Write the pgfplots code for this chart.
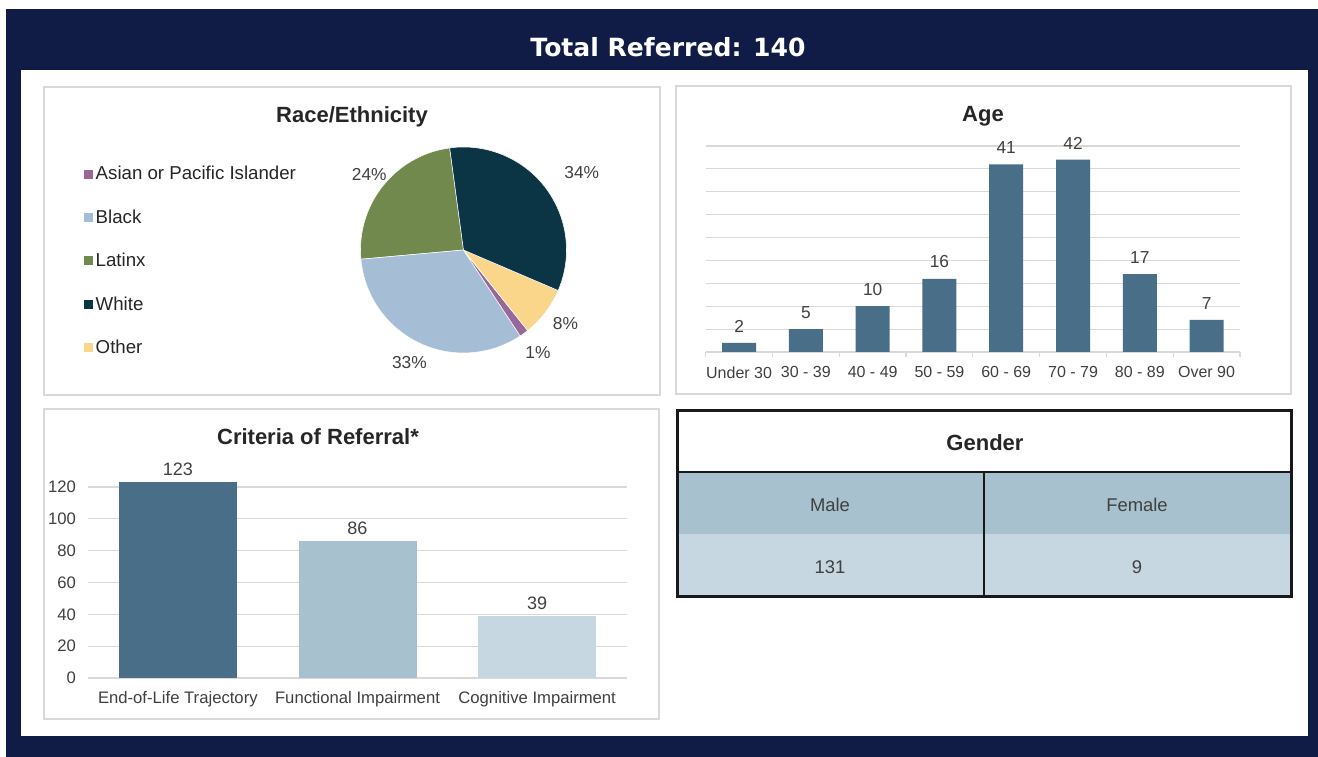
\documentclass[border=0pt]{standalone}
\usepackage{fontspec}
\setmainfont{Liberation Sans}
\newfontfamily\headfont{DejaVu Sans}
\usepackage{pgfplots}
\pgfplotsset{compat=1.18}
\definecolor{navy}{HTML}{101C46}
\definecolor{panelgray}{HTML}{D9D9D9}
\definecolor{gridgray}{HTML}{D9D9D9}
\definecolor{labelgray}{HTML}{404040}
\definecolor{titlegray}{HTML}{262626}
\definecolor{asian}{HTML}{98689B}
\definecolor{blackc}{HTML}{A5BED6}
\definecolor{latinx}{HTML}{71894C}
\definecolor{whitec}{HTML}{0B3544}
\definecolor{other}{HTML}{FAD68B}
\definecolor{barA}{HTML}{486F87}
\definecolor{barB}{HTML}{A7C2CE}
\definecolor{barC}{HTML}{C6D7E1}
\newcommand\fsz[1]{\fontsize{#1}{#1}\selectfont}
\begin{document}
\begin{tikzpicture}
\begin{scope}[x=0.75pt,y=0.75pt]
% background and frame
\fill[white] (0,0) rectangle (1318,757);
\fill[navy] (6,0) rectangle (1318,748);
\fill[white] (21,21) rectangle (1308,687);
\node[anchor=base, text=white, font=\headfont\bfseries\fsz{18.8pt}] at (668,700) {Total Referred: 140};
% panels
\draw[panelgray, line width=0.9pt] (44,362) rectangle (660,670);
\draw[panelgray, line width=0.9pt] (676,363) rectangle (1291,671);
\draw[panelgray, line width=0.9pt] (44,38) rectangle (659,348);
\node[anchor=base, text=titlegray, font=\bfseries\fsz{16.5pt}] at (352,634) {Race/Ethnicity};
\node[anchor=base, text=titlegray, font=\bfseries\fsz{16.5pt}] at (983,635) {Age};
\node[anchor=base, text=titlegray, font=\bfseries\fsz{16.5pt}] at (318,312) {Criteria of Referral*};
% Gender table
\fill[barB] (677,223) rectangle (1291,285);
\fill[barC] (677,160) rectangle (1291,223);
\draw[black!90, line width=1.5pt] (677,285) -- (1291,285);
\draw[black!90, line width=1.5pt] (984,160) -- (984,285);
\draw[black!90, line width=2.25pt] (677,160) rectangle (1291,346);
\node[anchor=base, text=titlegray, font=\bfseries\fsz{16.5pt}] at (985,306) {Gender};
\node[anchor=base, text=labelgray, font=\fsz{13.8pt}] at (830,245) {Male};
\node[anchor=base, text=labelgray, font=\fsz{13.8pt}] at (1137,245) {Female};
\node[anchor=base, text=labelgray, font=\fsz{13.8pt}] at (830,183) {131};
\node[anchor=base, text=labelgray, font=\fsz{13.8pt}] at (1137,183) {9};
\end{scope}

% ---------------- Race / Ethnicity pie ----------------
% counts: Latinx 34, Black 46, Asian 2, Other 11, White 47 (total 140); 360/140 = 2.5714286 deg per person
\begin{axis}[at={(231.75pt,264.375pt)}, anchor=south west, scale only axis,
  width=231.75pt, height=231.75pt, xmin=-1.5, xmax=1.5, ymin=-1.5, ymax=1.5,
  hide axis, clip=false, disabledatascaling,
  legend image code/.code={\fill[#1] (0pt,-3.4pt) rectangle (6.8pt,3.4pt);},
  legend style={at={(axis description cs:-0.729,0.78)}, anchor=north west,
    draw=none, fill=none, inner sep=0pt, row sep=16.9pt,
    font=\fsz{14pt}, text=titlegray, nodes={inner sep=2pt}},
  legend cell align=left]
\addlegendimage{fill=asian, draw=none}\addlegendentry{Asian or Pacific Islander}
\addlegendimage{fill=blackc, draw=none}\addlegendentry{Black}
\addlegendimage{fill=latinx, draw=none}\addlegendentry{Latinx}
\addlegendimage{fill=whitec, draw=none}\addlegendentry{White}
\addlegendimage{fill=other, draw=none}\addlegendentry{Other}
\fill[latinx, draw=white, line width=0.4pt] (axis cs:0,0) -- (axis cs:{cos(97.7)},{sin(97.7)})
  arc[start angle=97.7, delta angle={2.5714286*34}, radius=77.25pt] -- cycle;
\fill[blackc, draw=white, line width=0.4pt] (axis cs:0,0) -- (axis cs:{cos(97.7+2.5714286*34)},{sin(97.7+2.5714286*34)})
  arc[start angle={97.7+2.5714286*34}, delta angle={2.5714286*46}, radius=77.25pt] -- cycle;
\fill[asian, draw=white, line width=0.4pt] (axis cs:0,0) -- (axis cs:{cos(97.7+2.5714286*80)},{sin(97.7+2.5714286*80)})
  arc[start angle={97.7+2.5714286*80}, delta angle={2.5714286*2}, radius=77.25pt] -- cycle;
\fill[other, draw=white, line width=0.4pt] (axis cs:0,0) -- (axis cs:{cos(97.7+2.5714286*82)},{sin(97.7+2.5714286*82)})
  arc[start angle={97.7+2.5714286*82}, delta angle={2.5714286*11}, radius=77.25pt] -- cycle;
\fill[whitec, draw=white, line width=0.4pt] (axis cs:0,0) -- (axis cs:{cos(97.7+2.5714286*93)},{sin(97.7+2.5714286*93)})
  arc[start angle={97.7+2.5714286*93}, delta angle={2.5714286*47}, radius=77.25pt] -- cycle;
\node[font=\fsz{13pt}, text=labelgray] at (axis cs:{1.17*cos(97.7+2.5714286*17)},{1.17*sin(97.7+2.5714286*17)}) {24\%};
\node[font=\fsz{13pt}, text=labelgray] at (axis cs:{1.21*cos(97.7+2.5714286*57)},{1.21*sin(97.7+2.5714286*57)}) {33\%};
\node[font=\fsz{13pt}, text=labelgray] at (axis cs:{1.23*cos(97.7+2.5714286*81)},{1.23*sin(97.7+2.5714286*81)}) {1\%};
\node[font=\fsz{13pt}, text=labelgray, xshift=1.5pt, yshift=2pt] at (axis cs:{1.22*cos(97.7+2.5714286*87.5)},{1.22*sin(97.7+2.5714286*87.5)}) {8\%};
\node[font=\fsz{13pt}, text=labelgray, xshift=4.5pt, yshift=-6pt] at (axis cs:{1.37*cos(97.7+2.5714286*116.5)},{1.37*sin(97.7+2.5714286*116.5)}) {34\%};
\end{axis}

% ---------------- Age ----------------
\begin{axis}[at={(529.275pt,303.75pt)}, anchor=south west, scale only axis,
  width=400.7pt, height=154.5pt, xmin=-0.5, xmax=7.5, ymin=0, ymax=45,
  ybar, bar width=25.5pt, bar shift=0pt,
  ytick={0,5,...,45}, yticklabels={}, ymajorgrids,
  grid style={gridgray, line width=0.9pt},
  axis line style={draw=none}, major tick length=0pt,
  xtick={0,...,7},
  xticklabels={Under 30, 30 - 39, 40 - 49, 50 - 59, 60 - 69, 70 - 79, 80 - 89, Over 90},
  minor xtick={-0.5,0.5,...,7.5}, minor tick length=3.75pt,
  tick align=outside, tick pos=left,
  minor tick style={gridgray, line width=0.9pt},
  xticklabel style={font=\fsz{12pt}, text=labelgray, yshift=-7.3pt},
  nodes near coords,
  nodes near coords style={font=\fsz{13pt}, text=labelgray, yshift=4.5pt},
  /pgf/number format/assume math mode=true]
\addplot[fill=barA, draw=none] coordinates {(0,2) (1,5) (2,10) (3,16) (4,41) (5,42) (6,17) (7,7)};
\end{axis}

% ---------------- Criteria of Referral ----------------
\begin{axis}[at={(66pt,59.25pt)}, anchor=south west, scale only axis,
  width=404.25pt, height=167.1pt, xmin=-0.5, xmax=2.5, ymin=0, ymax=140,
  ybar, bar width=88.5pt, bar shift=0pt,
  ytick={0,20,...,120}, ymajorgrids,
  grid style={gridgray, line width=0.9pt},
  axis line style={draw=none}, major tick length=0pt,
  xtick={0,1,2},
  xticklabels={End-of-Life Trajectory, Functional Impairment, Cognitive Impairment},
  xticklabel style={font=\fsz{12.5pt}, text=labelgray, yshift=-6.5pt},
  yticklabel style={font=\fsz{12.5pt}, text=labelgray, xshift=-5.5pt},
  nodes near coords,
  nodes near coords style={font=\fsz{13.5pt}, text=labelgray, yshift=1.5pt},
  /pgf/number format/assume math mode=true]
\addplot[fill=barA, draw=none] coordinates {(0,123)};
\addplot[fill=barB, draw=none] coordinates {(1,86)};
\addplot[fill=barC, draw=none] coordinates {(2,39)};
\end{axis}
\end{tikzpicture}
\end{document}
